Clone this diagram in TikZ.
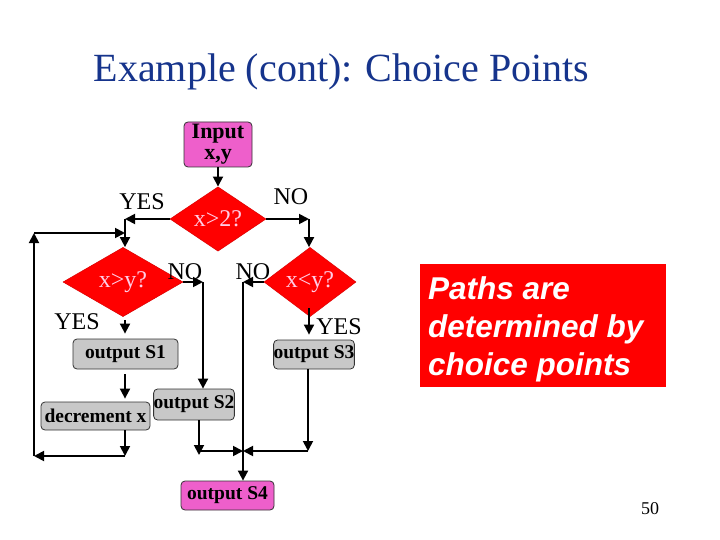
\documentclass[tikz,border=0pt]{standalone}
\usepackage{fontspec}
\setmainfont{Liberation Serif}
\newfontfamily\boxsans{Liberation Sans}
\usetikzlibrary{shapes.geometric,arrows.meta}
\definecolor{pinkfill}{RGB}{238,95,203}
\definecolor{grayfill}{RGB}{200,200,200}
\definecolor{titleblue}{RGB}{22,52,140}
\definecolor{dtext}{RGB}{255,205,230}
\begin{document}
\begin{tikzpicture}[x=1pt,y=-1pt,
  arr/.style={line width=1.8pt,-{Triangle[length=10pt,width=10pt]}},
  pinkbox/.style={draw=black!80,line width=0.8pt,fill=pinkfill,rounded corners=4pt,inner sep=0pt,align=center,font=\fontsize{22}{21}\selectfont\bfseries},
  graybox/.style={draw=black!80,line width=0.8pt,fill=grayfill,rounded corners=4pt,inner sep=0pt,font=\fontsize{19.5}{21}\selectfont\bfseries},
  dia/.style={diamond,fill=red,draw=red!85!black,line width=0.5pt,inner sep=0pt,text=dtext,font=\fontsize{24}{24}\selectfont},
  lab/.style={font=\fontsize{24}{24}\selectfont,inner sep=0pt}]
\useasboundingbox (0,0) rectangle (720,540);
\fill[white] (0,0) rectangle (720,540);
% title
\node[anchor=base,text=titleblue,font=\fontsize{40}{44}\selectfont,inner sep=0pt] (title) at (341.5,82) {Example (cont): Choice Points};
% nodes
\node[pinkbox,minimum width=68pt,minimum height=45pt] (in) at (218,144.5) {Input\\x,y};
\node[dia,minimum width=96pt,minimum height=48pt] (d1) at (218,219) {x>2?};
\node[dia,minimum width=120pt,minimum height=46pt] (d2) at (123,282) {x>y?};
\node[dia,minimum width=92pt,minimum height=46pt] (d3) at (310,282) {x<y?};
\node[graybox,minimum width=105pt,minimum height=30pt] (s1) at (125.5,354) {output S1};
\node[graybox,minimum width=109pt,minimum height=28pt] (dec) at (95.5,416) {decrement x};
\node[graybox,minimum width=80pt,minimum height=31pt] (s2) at (194,404.5) {output S2};
\node[graybox,minimum width=80pt,minimum height=29pt] (s3) at (314,354.5) {output S3};
\node[pinkbox,minimum width=93pt,minimum height=29pt,font=\fontsize{19.5}{21}\selectfont\bfseries] (s4) at (227.5,495.5) {output S4};
\node[fill=red,minimum width=246pt,minimum height=123pt,inner sep=0pt] (note) at (543,325.5) {};
\node[anchor=west,text=white,align=left,inner sep=0pt,font=\boxsans\fontsize{31.5}{38}\selectfont\bfseries\itshape] (notetext) at (428,329.5) {Paths are\\determined by\\choice points};
\node[anchor=base,font=\fontsize{18}{20}\selectfont,inner sep=0pt] (page) at (650,514) {50};
% labels
\node[lab] (yes1) at (142,202) {YES};
\node[lab] (no1) at (291,197) {NO};
\node[lab] (no2) at (185,272) {NO};
\node[lab] (no3) at (253,272) {NO};
\node[lab] (yes2) at (77,322) {YES};
\node[lab] (yes3) at (339,327) {YES};
% connectors
\draw[arr] (in.south) -- (d1.north);
\coordinate (yl) at (125,219);
\draw[arr] (d1.west) -- (yl);
\draw[arr] (yl) -- (yl |- d2.north);
\coordinate (nr) at (309,219);
\draw[arr] (d1.east) -- (nr);
\draw[arr] (nr) -- (nr |- d3.north);
\coordinate (lt) at (34,233);
\coordinate (lm) at (125,233);
\coordinate (lb) at (34,456);
\coordinate (db) at (125,456);
\draw[arr] (lt) -- (lm);
\draw[arr] (lb) -- (lt);
\draw[arr] (dec.south -| db) -- (db);
\draw[arr] (db) -- (lb);
\coordinate (n2) at (203,282);
\draw[arr] (d2.east) -- (n2);
\draw[arr] (n2) -- (n2 |- s2.north);
\coordinate (n3) at (243,282);
\draw[arr] (d3.west) -- (n3);
\draw[arr] (n3) -- (n3 |- s4.north);
\draw[arr,shorten <=3pt,shorten >=5pt] (d2.south -| yl) -- (s1.north -| yl);
\draw[arr,shorten <=5pt,shorten >=3pt] (s1.south -| yl) -- (dec.north -| yl);
\coordinate (c3) at (309,305);
\draw[arr,shorten <=3pt,shorten >=5pt] (c3) -- (c3 |- s3.north);
\coordinate (j2) at (199,455);
\draw[arr] (j2 |- s2.south) -- (j2);
\coordinate (h2) at (199,451);
\coordinate (jx) at (243,451);
\draw[arr] (h2) -- (jx);
\coordinate (j3) at (308,451);
\draw[arr] (j3 |- s3.south) -- (j3);
\draw[arr] (j3) -- (jx);
\end{tikzpicture}
\end{document}
